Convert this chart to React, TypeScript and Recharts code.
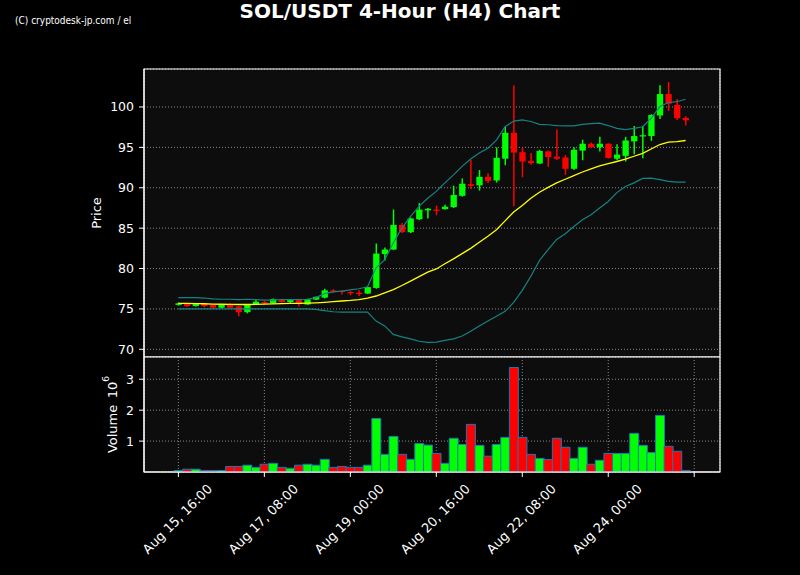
import React from "react"
import {
    ComposedChart,
    Bar,
    Line,
    Cell,
    XAxis,
    YAxis,
    CartesianGrid,
    ReferenceArea,
} from "recharts"

// 4H candles, Aug 15 16:00 -> Aug 25 08:00
const OPEN = [
    75.5, 75.7, 75.35, 75.6, 75.5, 75.15, 75.5, 75.3, 74.6, 75.6,
    75.85, 75.7, 76.1, 75.85, 76.1, 75.55, 76.15, 76.4, 77.3, 77.25,
    77.1, 77.0, 76.9, 77.6, 81.8, 82.35, 85.4, 84.5, 86.1, 87.2,
    87.3, 87.35, 87.6, 89.0, 90.45, 90.3, 91.35, 90.9, 93.6, 96.8,
    94.4, 93.3, 93.0, 94.5, 93.85, 93.75, 92.35, 94.6, 95.45, 95.0,
    95.45, 93.6, 93.95, 95.75, 96.35, 96.4, 98.95, 101.6, 100.25, 98.65,
]
const HIGH = [
    75.8, 75.75, 75.7, 75.65, 75.55, 75.55, 75.7, 75.35, 75.6, 76.1,
    76.0, 76.3, 76.15, 76.15, 76.15, 76.25, 76.55, 77.5, 77.45, 77.3,
    77.2, 77.3, 77.75, 83.1, 82.6, 87.3, 85.65, 86.3, 88.1, 87.5,
    87.8, 87.9, 90.25, 91.15, 93.45, 92.2, 91.8, 95.0, 97.55, 102.7,
    95.0, 94.3, 94.7, 94.6, 97.2, 94.05, 95.0, 95.95, 95.6, 96.3,
    95.5, 95.4, 96.3, 97.65, 97.65, 99.1, 102.7, 103.1, 101.0, 98.85,
]
const LOW = [
    75.4, 75.25, 75.3, 75.2, 75.1, 75.1, 75.1, 74.1, 74.45, 75.55,
    75.6, 75.65, 75.8, 75.7, 75.3, 75.5, 76.1, 76.3, 77.0, 76.8,
    76.7, 76.6, 76.85, 77.5, 81.0, 82.3, 84.4, 84.4, 86.0, 86.2,
    86.6, 87.3, 87.5, 88.9, 89.85, 89.65, 90.6, 90.65, 92.8, 87.7,
    91.3, 92.85, 92.95, 92.6, 93.45, 91.6, 92.2, 93.4, 94.95, 94.5,
    93.6, 93.4, 93.25, 94.15, 93.65, 95.8, 98.5, 99.5, 98.4, 97.7,
]
const CLOSE = [
    75.7, 75.35, 75.6, 75.35, 75.15, 75.5, 75.15, 74.6, 75.5, 75.9,
    75.75, 76.2, 75.85, 76.1, 75.6, 76.2, 76.5, 77.3, 77.15, 77.1,
    76.95, 76.95, 77.7, 81.85, 82.35, 85.4, 84.5, 86.2, 87.3, 87.4,
    87.2, 87.65, 89.1, 90.5, 90.25, 91.35, 90.85, 93.7, 96.8, 94.35,
    93.25, 93.05, 94.55, 93.8, 93.6, 92.35, 94.7, 95.45, 95.0, 95.45,
    93.7, 94.1, 95.85, 96.4, 96.5, 99.0, 101.6, 100.4, 98.6, 98.35,
]
// volume in millions
const VOLUME = [
    0.05, 0.09, 0.09, 0.05, 0.05, 0.05, 0.18, 0.18, 0.22, 0.15,
    0.25, 0.28, 0.15, 0.12, 0.22, 0.25, 0.22, 0.41, 0.15, 0.18,
    0.15, 0.15, 0.22, 1.73, 0.57, 1.15, 0.57, 0.41, 0.92, 0.87,
    0.6, 0.28, 1.09, 0.89, 1.54, 0.86, 0.51, 0.89, 1.12, 3.38,
    1.12, 0.57, 0.44, 0.4, 1.09, 0.8, 0.44, 0.8, 0.25, 0.38,
    0.6, 0.6, 0.6, 1.25, 0.86, 0.63, 1.83, 0.83, 0.67, 0.05,
]
const MA20 = [
    75.7, 75.68, 75.66, 75.64, 75.6, 75.58, 75.56, 75.55, 75.55, 75.56,
    75.6, 75.62, 75.65, 75.68, 75.7, 75.72, 75.76, 75.82, 75.9, 75.98,
    76.05, 76.15, 76.35, 76.6, 77.0, 77.4, 77.9, 78.45, 79.0, 79.55,
    79.95, 80.6, 81.2, 81.85, 82.5, 83.25, 84.0, 84.8, 85.9, 87.0,
    87.8, 88.7, 89.45, 90.05, 90.6, 91.05, 91.5, 91.95, 92.35, 92.7,
    93.0, 93.25, 93.55, 93.9, 94.25, 94.8, 95.35, 95.65, 95.7, 95.85,
]
const BB_UPPER = [
    76.4, 76.4, 76.4, 76.35, 76.25, 76.2, 76.2, 76.15, 76.2, 76.15,
    76.1, 76.1, 76.15, 76.15, 76.15, 76.2, 76.4, 76.9, 77.1, 77.2,
    77.35, 77.5, 77.75, 80.1, 81.1, 83.2, 85.0, 86.45, 87.7, 88.7,
    89.55, 90.6, 91.6, 92.65, 93.55, 94.3, 94.9, 95.9, 97.55, 98.25,
    98.4, 98.2, 97.85, 97.8, 97.7, 97.65, 97.65, 97.85, 97.95, 98.0,
    97.7, 97.35, 97.2, 97.35, 97.55, 98.6, 100.05, 100.55, 100.65, 100.95,
]
const BB_LOWER = [
    75.0, 75.0, 75.0, 75.0, 75.0, 75.0, 75.0, 75.0, 75.0, 75.0,
    75.0, 75.0, 75.0, 75.0, 75.0, 75.0, 74.95, 74.8, 74.65, 74.6,
    74.6, 74.6, 74.6, 73.5, 72.9, 71.85, 71.55, 71.3, 71.0, 70.85,
    70.9, 71.1, 71.3, 71.65, 72.25, 72.9, 73.5, 74.1, 74.7, 75.8,
    77.3, 79.05, 81.0, 82.35, 83.6, 84.3, 85.2, 86.05, 86.65, 87.5,
    88.3, 89.4, 90.15, 90.6, 91.15, 91.2, 91.0, 90.8, 90.7, 90.7,
]
const TICK_INDEX = [0, 10, 20, 30, 40, 50, 60]
const TICK_LABELS = [
    "Aug 15, 16:00",
    "Aug 17, 08:00",
    "Aug 19, 00:00",
    "Aug 20, 16:00",
    "Aug 22, 08:00",
    "Aug 24, 00:00",
    "",
]
const PRICE_TICKS = [70, 75, 80, 85, 90, 95, 100]
const VOLUME_TICKS = [1, 2, 3]

const X_DOMAIN = [-4, 63]
const PRICE_DOMAIN = [69.05, 104.7]
const VOLUME_DOMAIN = [0, 3.72]

const UP = "#00ff00"
const DOWN = "#ff0000"
const BAND = "#168383"
const FONT = "'DejaVu Sans', sans-serif"

const rows = OPEN.map((open, i) => ({
    idx: i,
    open,
    high: HIGH[i],
    low: LOW[i],
    close: CLOSE[i],
    range: [LOW[i], HIGH[i]],
    volume: VOLUME[i],
    ma: MA20[i],
    upper: BB_UPPER[i],
    lower: BB_LOWER[i],
}))

const Candle = (props: any) => {
    const { x, y, width, height, payload } = props
    const { open, close, high, low } = payload
    const color = close >= open ? UP : DOWN
    const top = Math.min(y, y + height)
    const h = Math.abs(height)
    const ratio = h / (high - low)
    const cx = x + width / 2
    const bodyTop = top + (high - Math.max(open, close)) * ratio
    const bodyH = Math.max(Math.abs(open - close) * ratio, 1.2)
    const bw = width * 0.7
    return (
        <g>
            <line x1={cx} x2={cx} y1={top} y2={top + h} stroke={color} strokeWidth={1.5} />
            <rect x={cx - bw / 2} y={bodyTop} width={bw} height={bodyH} fill={color} />
        </g>
    )
}

const DateTick = (props: any) => {
    const { x, y, payload } = props
    const label = TICK_LABELS[TICK_INDEX.indexOf(payload.value)]
    if (!label) return null
    const cy = y + 40
    return (
        <text
            x={x - 1}
            y={cy}
            fill="#fff"
            fontSize={13}
            fontFamily={FONT}
            textAnchor="middle"
            dominantBaseline="central"
            transform={`rotate(-45, ${x - 1}, ${cy})`}
        >
            {label}
        </text>
    )
}

const tickStyle = { fill: "#fff", fontSize: 12.5, fontFamily: FONT }

export default function App() {
    return (
        <div
            style={{
                position: "absolute",
                left: 0,
                top: 0,
                width: 800,
                height: 575,
                background: "#000",
                fontFamily: FONT,
                overflow: "hidden",
            }}
        >
            <div
                style={{
                    position: "absolute",
                    top: 0,
                    left: 0,
                    width: 800,
                    textAlign: "center",
                    color: "#fff",
                    fontWeight: "bold",
                    fontSize: 20,
                    lineHeight: "23px",
                }}
            >
                SOL/USDT 4-Hour (H4) Chart
            </div>
            <div
                style={{
                    position: "absolute",
                    top: 15,
                    left: 15,
                    color: "#fff",
                    fontSize: 10,
                    lineHeight: "12px",
                    fontFamily: "'Liberation Sans Narrow', 'DejaVu Sans Condensed', sans-serif",
                }}
            >
                (C) cryptodesk-jp.com / el
            </div>

            <div style={{ position: "absolute", top: 0, left: 0 }}>
                <ComposedChart
                    width={800}
                    height={360}
                    data={rows}
                    margin={{ top: 69, right: 80, bottom: 0, left: 0 }}
                    barCategoryGap={0}
                    barGap={0}
                >
                    <CartesianGrid fill="#0d0d0d" stroke="#8a8a8a" strokeDasharray="1 2" />
                    <XAxis
                        dataKey="idx"
                        type="number"
                        domain={X_DOMAIN}
                        ticks={TICK_INDEX}
                        allowDataOverflow
                        height={3}
                        tick={false}
                        tickLine={false}
                        axisLine={{ stroke: "#fff" }}
                    />
                    <YAxis
                        type="number"
                        domain={PRICE_DOMAIN}
                        ticks={PRICE_TICKS}
                        allowDataOverflow
                        width={144}
                        tick={tickStyle}
                        tickSize={5}
                        tickMargin={5}
                        tickLine={{ stroke: "#fff" }}
                        axisLine={{ stroke: "#fff" }}
                        label={{
                            content: (p: any) => {
                                const vb = p.viewBox
                                const cy = vb.y + vb.height / 2
                                return (
                                    <text
                                        x={96}
                                        y={cy}
                                        fill="#fff"
                                        fontSize={13}
                                        fontFamily={FONT}
                                        textAnchor="middle"
                                        dominantBaseline="central"
                                        transform={`rotate(-90, 96, ${cy})`}
                                    >
                                        Price
                                    </text>
                                )
                            },
                        }}
                    />
                    <Line type="linear" dataKey="upper" stroke={BAND} strokeWidth={1.2} dot={false} isAnimationActive={false} />
                    <Line type="linear" dataKey="lower" stroke={BAND} strokeWidth={1.2} dot={false} isAnimationActive={false} />
                    <Line type="linear" dataKey="ma" stroke="#ffff00" strokeWidth={1.3} dot={false} isAnimationActive={false} />
                    <Bar dataKey="range" shape={Candle} isAnimationActive={false} />
                    <ReferenceArea
                        x1={X_DOMAIN[0]}
                        x2={X_DOMAIN[1]}
                        y1={PRICE_DOMAIN[0]}
                        y2={PRICE_DOMAIN[1]}
                        fill="none"
                        stroke="#fff"
                        strokeWidth={1.2}
                        ifOverflow="visible"
                    />
                </ComposedChart>
            </div>

            <div style={{ position: "absolute", top: 357, left: 0 }}>
                <ComposedChart
                    width={800}
                    height={218}
                    data={rows}
                    margin={{ top: 0, right: 80, bottom: 0, left: 0 }}
                    barCategoryGap={0}
                    barGap={0}
                >
                    <CartesianGrid fill="#0d0d0d" stroke="#8a8a8a" strokeDasharray="1 2" />
                    <XAxis
                        dataKey="idx"
                        type="number"
                        domain={X_DOMAIN}
                        ticks={TICK_INDEX}
                        allowDataOverflow
                        height={103}
                        tick={DateTick}
                        tickSize={5}
                        tickLine={{ stroke: "#fff" }}
                        axisLine={{ stroke: "#fff" }}
                    />
                    <YAxis
                        type="number"
                        domain={VOLUME_DOMAIN}
                        ticks={VOLUME_TICKS}
                        allowDataOverflow
                        width={144}
                        tick={tickStyle}
                        tickSize={5}
                        tickMargin={5}
                        tickLine={{ stroke: "#fff" }}
                        axisLine={{ stroke: "#fff" }}
                        label={{
                            content: (p: any) => {
                                const vb = p.viewBox
                                const cy = vb.y + vb.height / 2
                                return (
                                    <text
                                        x={112}
                                        y={cy}
                                        fill="#fff"
                                        fontSize={13}
                                        fontFamily={FONT}
                                        textAnchor="middle"
                                        dominantBaseline="central"
                                        transform={`rotate(-90, 112, ${cy})`}
                                    >
                                        Volume{"\u2002"}10
                                        <tspan dy={-6} fontSize={9}>6</tspan>
                                    </text>
                                )
                            },
                        }}
                    />
                    <Bar dataKey="volume" stroke="#1f77b4" strokeWidth={1} isAnimationActive={false}>
                        {rows.map((r, i) => (
                            <Cell key={`v-${i}`} fill={r.close >= r.open ? UP : DOWN} />
                        ))}
                    </Bar>
                    <ReferenceArea
                        x1={X_DOMAIN[0]}
                        x2={X_DOMAIN[1]}
                        y1={VOLUME_DOMAIN[0]}
                        y2={VOLUME_DOMAIN[1]}
                        fill="none"
                        stroke="#fff"
                        strokeWidth={1.2}
                        ifOverflow="visible"
                    />
                </ComposedChart>
            </div>
        </div>
    )
}
